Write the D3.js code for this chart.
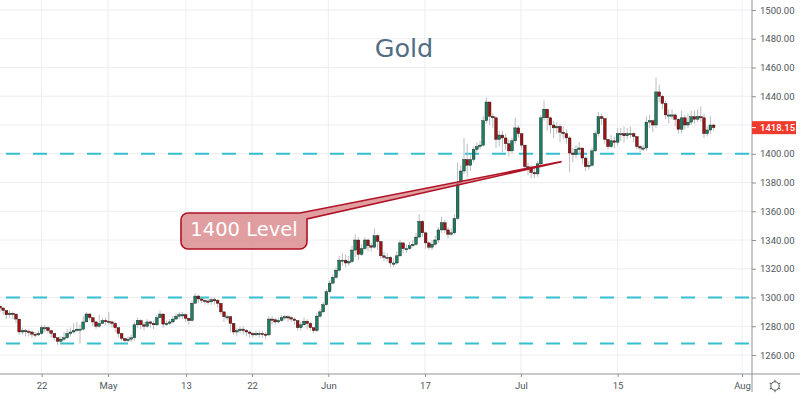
<!DOCTYPE html>
<html>
<head>
<meta charset="utf-8">
<script src="https://cdnjs.cloudflare.com/ajax/libs/d3/7.8.5/d3.min.js"></script>
<style>
	body { margin: 0; background: #fff; }
	svg { display: block; }
	.domain { display: none; }
</style>
</head>
<body>
<div id="chart"></div>
<script>
// 8h bars, weekends skipped like the source chart does
const firstOpen = 1294;
const closes = [
	1292.7,1291,1288,1289,1288.5,1285,1276,1277,1276.5,1276,
	1274.5,1274,1275,1279,1279,1277,1275,1272,1269.5,1271,
	1272,1275,1276,1277,1278,1278,1283,1288.5,1286,1283,
	1280,1282,1284,1283.5,1283,1282,1279,1275,1271.5,1270,
	1271,1272,1281,1284,1281,1280,1283,1282,1281,1286,
	1288.5,1281.5,1282,1283,1285,1287,1288,1288,1285.5,1284,
	1296,1301,1299,1298,1297.5,1297,1298.5,1298,1296,1290,
	1286.6,1286.6,1282,1276,1277,1278,1277,1276,1275,1274,
	1275,1275,1274.5,1274,1285,1284.5,1283,1284,1286,1286.6,
	1286,1285,1284,1279,1281,1283.5,1282,1279,1277,1287,
	1290,1295,1304,1310,1314,1319,1326,1326,1324,1325,
	1333,1340,1330,1334,1340,1336,1335,1343,1339,1329,
	1328,1328,1324,1324,1329,1338,1334,1334,1336,1337,
	1342,1353,1345,1338,1335,1337,1340,1347,1352,1347,
	1344,1345,1355,1380,1388,1396,1392,1396,1403,1405,
	1406,1423,1436,1426,1425,1410,1413,1411,1407,1402,
	1409,1418,1414,1406,1391,1390,1387,1386,1393,1425,
	1431,1425,1420,1418,1419,1415,1414,1411,1400.5,1399.5,
	1403,1404,1397,1391,1392,1402,1414,1425.8,1424.5,1410,
	1405,1409,1408,1414,1414,1412.5,1414,1414,1412,1405,
	1404,1404,1422,1423,1420,1443,1440,1435,1427,1427,
	1427,1424,1417,1425,1420,1422,1425.8,1424,1425.8,1425,
	1414,1416.5,1420,1418.15
];
const highs = [
	1294,1293,1291,1291,1290,1288,1285,1279,1278,1278,
	1277,1276,1277,1281,1281,1280,1277,1275,1272,1273,
	1276,1278,1279,1282,1283,1281,1287,1290,1289,1286,
	1284,1288,1286,1286,1290,1284,1283,1279,1275,1272,
	1273,1274,1283,1286,1285,1283,1285,1284,1284,1288,
	1291,1289,1284,1285,1287,1289,1290,1290,1289,1286,
	1298,1303,1302,1300,1299,1299,1300,1300,1299,1296,
	1290,1288,1287,1282,1279,1280,1280,1278,1277,1276,
	1277,1277,1277,1276,1287,1287,1286,1286,1288,1288,
	1288,1287,1286,1284,1283,1286,1285,1283,1279,1289,
	1292,1297,1306,1312,1316,1321,1329,1331,1330,1329,
	1336,1344,1342,1337,1342,1341,1338,1348,1344,1339,
	1332,1331,1329,1327,1332,1340,1338,1337,1339,1340,
	1345,1358,1354,1346,1339,1340,1343,1349,1356,1354,
	1349,1348,1358,1394,1392,1411,1407,1399,1405,1408,
	1409,1426,1439,1433,1428,1426,1416,1416,1414,1410,
	1411,1425,1420,1414,1406,1394,1392,1390,1395,1427,
	1437,1431,1426,1423,1422,1421,1419,1417,1412,1404,
	1406,1408,1404,1398,1395,1404,1416,1429,1428,1425,
	1408,1413,1412,1418,1418,1419,1418,1419,1415,1412,
	1406,1406,1426,1427,1424,1453,1448,1441,1437,1431,
	1431,1428,1425,1430,1427,1428,1430,1430,1431,1433,
	1428,1419,1426,1421
];
const lows = [
	1290,1288,1285,1286,1285,1282,1274,1274,1273,1273,
	1272,1272,1273,1274,1276,1275,1272,1270,1267,1268,
	1270,1271,1273,1275,1276,1268,1277,1285,1284,1280,
	1278,1279,1282,1281,1281,1279,1276,1272,1270,1268,
	1269,1269,1270,1279,1278,1277,1279,1279,1278,1280,
	1286,1279,1280,1281,1282,1285,1285,1285,1283,1281,
	1283,1296,1296,1296,1295,1295,1295,1295,1293,1288,
	1283,1284,1276,1274,1273,1275,1274,1273,1272,1272,
	1273,1272,1272,1271,1273,1281,1281,1282,1283,1284,
	1283,1283,1281,1277,1277,1280,1278,1277,1275,1276,
	1286,1289,1294,1303,1309,1313,1318,1322,1321,1322,
	1324,1328,1326,1329,1333,1332,1332,1334,1333,1327,
	1325,1325,1321,1321,1323,1328,1331,1331,1333,1335,
	1336,1342,1342,1334,1333,1333,1336,1338,1345,1345,
	1341,1343,1344,1354,1378,1386,1384,1388,1394,1401,
	1403,1405,1421,1420,1418,1404,1405,1401,1403,1398,
	1400,1407,1411,1403,1388,1385,1383,1383,1384,1391,
	1423,1416,1414,1411,1414,1408,1410,1407,1387,1394,
	1397,1400,1393,1388,1389,1391,1401,1412,1420,1407,
	1403,1404,1404,1406,1409,1408,1410,1411,1408,1403,
	1401,1402,1402,1418,1415,1418,1436,1431,1424,1421,
	1424,1419,1414,1414,1417,1418,1420,1421,1422,1422,
	1411,1412,1414,1416
];

const dateTickBars = [13, 33.75, 58.1, 78.75, 102.6, 132.8, 162.8, 193, 231.9];
const dateTickLabels = ['22', 'May', '13', '22', 'Jun', '17', 'Jul', '15', 'Aug'];
const priceTicks = [1260, 1280, 1300, 1320, 1340, 1360, 1380, 1400, 1420, 1440, 1460, 1480, 1500];
const levels = [1400, 1300, 1268];
const lastPrice = 1418.15;
const calloutBar = 175.5;
const calloutPrice = 1394.5;

const width = 800, height = 395;
const plotRight = 752, plotBottom = 374;

const svg = d3.select('#chart').append('svg')
	.attr('width', width)
	.attr('height', height)
	.style('font-family', 'Roboto, sans-serif');

const x = d3.scaleLinear().domain([0, 250]).range([0, 800]);
const y = d3.scaleLinear().domain([1260, 1500]).range([355, 10]);

// grid
svg.append('g').selectAll('line')
	.data(priceTicks)
	.enter().append('line')
	.attr('x1', 0).attr('x2', plotRight)
	.attr('y1', d => y(d)).attr('y2', d => y(d))
	.attr('stroke', '#eceef0');

svg.append('g').selectAll('line')
	.data(dateTickBars)
	.enter().append('line')
	.attr('x1', d => x(d)).attr('x2', d => x(d))
	.attr('y1', 0).attr('y2', plotBottom)
	.attr('stroke', '#eceef0');

// dashed levels
svg.append('g').selectAll('line')
	.data(levels)
	.enter().append('line')
	.attr('x1', 6).attr('x2', plotRight - 2)
	.attr('y1', d => y(d)).attr('y2', d => y(d))
	.attr('stroke', '#35bfcf')
	.attr('stroke-width', 2)
	.attr('stroke-dasharray', '14 13');

svg.append('text')
	.attr('x', 404).attr('y', 57)
	.attr('text-anchor', 'middle')
	.style('font-family', 'DejaVu Sans, sans-serif')
	.style('font-size', '25.5px')
	.attr('fill', '#526d84')
	.text('Gold');

// candles
const bars = closes.map((c, i) => ({
	i,
	open: i ? closes[i - 1] : firstOpen,
	close: c,
	high: highs[i],
	low: lows[i]
}));

const candles = svg.append('g').selectAll('g')
	.data(bars)
	.enter().append('g');

candles.append('line')
	.attr('x1', d => x(d.i)).attr('x2', d => x(d.i))
	.attr('y1', d => y(d.high)).attr('y2', d => y(d.low))
	.attr('stroke', '#b9bcc0');

candles.append('rect')
	.attr('x', d => x(d.i) - 1.4)
	.attr('width', 2.8)
	.attr('y', d => y(Math.max(d.open, d.close)))
	.attr('height', d => Math.max(1.2, Math.abs(y(d.open) - y(d.close))))
	.attr('fill', d => d.close >= d.open ? '#1b7d62' : '#a01212')
	.attr('stroke', '#1c1c1c')
	.attr('stroke-width', 0.4);

// callout, anchored on the price scale
const tipX = x(calloutBar), tipY = y(calloutPrice);
const box = {left: 181, top: 213, right: 307, bottom: 249, r: 7};
const calloutPath = d3.path();
calloutPath.moveTo(box.left + box.r, box.top);
calloutPath.lineTo(box.right - 7, box.top);
calloutPath.lineTo(tipX, tipY);
calloutPath.lineTo(box.right, box.top + 6);
calloutPath.lineTo(box.right, box.bottom - box.r);
calloutPath.arcTo(box.right, box.bottom, box.right - box.r, box.bottom, box.r);
calloutPath.lineTo(box.left + box.r, box.bottom);
calloutPath.arcTo(box.left, box.bottom, box.left, box.bottom - box.r, box.r);
calloutPath.lineTo(box.left, box.top + box.r);
calloutPath.arcTo(box.left, box.top, box.left + box.r, box.top, box.r);
calloutPath.closePath();

svg.append('path')
	.attr('d', calloutPath.toString())
	.attr('fill', '#d9868a')
	.attr('fill-opacity', 0.8)
	.attr('stroke', '#b01226')
	.attr('stroke-width', 1.6);

svg.append('text')
	.attr('x', 244).attr('y', 236)
	.attr('text-anchor', 'middle')
	.style('font-family', 'DejaVu Sans, sans-serif')
	.style('font-size', '19.5px')
	.attr('fill', '#fff')
	.text('1400 Level');

// axes, the 1420 label sits behind the last price tag so it gets no text
const yAxis = svg.append('g')
	.attr('transform', `translate(${plotRight},0)`)
	.call(d3.axisRight(y)
		.tickValues(priceTicks.filter(d => d !== 1420))
		.tickFormat(d3.format('.2f'))
		.tickSize(4)
		.tickPadding(4));

const xAxis = svg.append('g')
	.attr('transform', `translate(0,${plotBottom})`)
	.call(d3.axisBottom(x).tickValues(dateTickBars).tickFormat((d, i) => dateTickLabels[i]).tickSize(3).tickPadding(5));

svg.selectAll('.tick line').attr('stroke', '#8a8f94');
svg.selectAll('.tick text')
	.attr('fill', '#50565c')
	.style('font-size', '9.5px')
	.style('font-family', 'Roboto, sans-serif');

svg.append('line')
	.attr('x1', 0).attr('x2', width)
	.attr('y1', plotBottom).attr('y2', plotBottom)
	.attr('stroke', '#8f9396');
svg.append('line')
	.attr('x1', plotRight).attr('x2', plotRight)
	.attr('y1', 0).attr('y2', 392)
	.attr('stroke', '#8f9396');

// last price tag
svg.append('rect')
	.attr('x', plotRight).attr('y', y(lastPrice) - 6.5)
	.attr('width', 44).attr('height', 13)
	.attr('fill', '#ef3b2d');
svg.append('line')
	.attr('x1', plotRight).attr('x2', plotRight + 4)
	.attr('y1', y(lastPrice)).attr('y2', y(lastPrice))
	.attr('stroke', '#fff');
svg.append('text')
	.attr('x', plotRight + 8).attr('y', y(lastPrice) + 3.5)
	.style('font-size', '9.5px')
	.style('font-weight', 500)
	.attr('fill', '#fff')
	.text(d3.format('.2f')(lastPrice));

// settings gear
const gear = svg.append('g')
	.attr('transform', 'translate(775,386)')
	.attr('fill', 'none')
	.attr('stroke', '#50565c');
gear.append('circle').attr('r', 4.2);
gear.selectAll('line')
	.data(d3.range(0, 360, 60))
	.enter().append('line')
	.attr('x1', 4.2).attr('x2', 6.2)
	.attr('transform', d => `rotate(${d + 30})`);
</script>
</body>
</html>
